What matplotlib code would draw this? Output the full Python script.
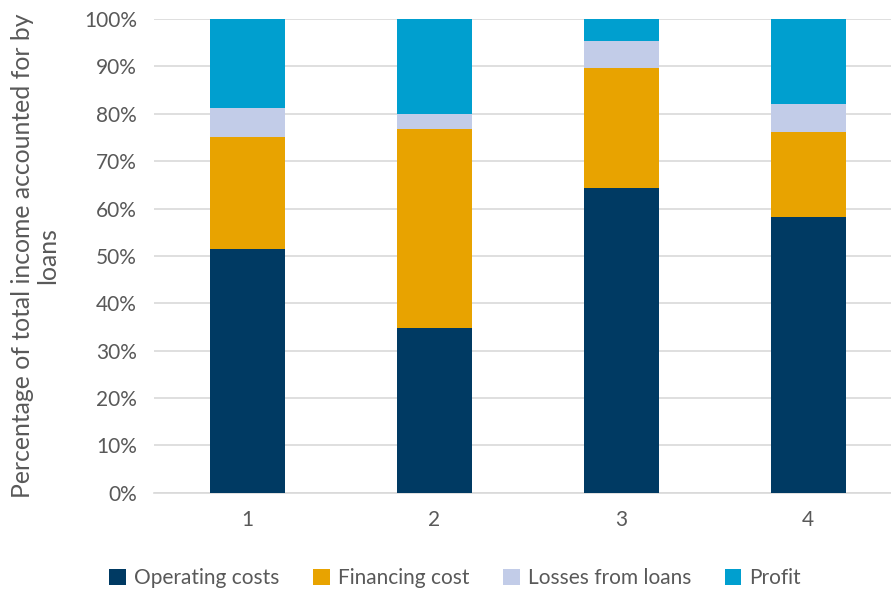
import numpy as np
import matplotlib
matplotlib.use("Agg")
import matplotlib.pyplot as plt

plt.rcParams['font.family'] = ['Lato', 'DejaVu Sans']

categories = ['1', '2', '3', '4']
operating = [51.5, 34.8, 64.3, 58.2]
financing = [23.6, 42.0, 25.4, 18.0]
losses = [6.1, 3.2, 5.7, 5.9]
profit = [100 - a - b - c for a, b, c in zip(operating, financing, losses)]

series = [("Operating costs", operating, "#003A63"),
          ("Financing cost", financing, "#E8A300"),
          ("Losses from loans", losses, "#C2CCE8"),
          ("Profit", profit, "#009FCF")]

fig = plt.figure(figsize=(8.91, 5.91), dpi=100)
ax = fig.add_axes([0.1725, 0.166, 0.8395, 0.802])

x = np.arange(len(categories))
bottom = np.zeros(len(categories))
for name, vals, col in series:
    ax.bar(x, vals, 0.4, bottom=bottom, color=col, label=name, zorder=3)
    bottom += np.array(vals)

ax.set_xlim(-0.5, 3.5)
ax.set_ylim(0, 100)
ax.set_yticks(np.arange(0, 101, 10))
ax.set_yticklabels([f"{v}%" for v in range(0, 101, 10)])
ax.set_xticks(x)
ax.set_xticklabels(categories)
ax.grid(axis='y', color='#D9D9D9', linewidth=1.2, zorder=0)
for s in ['top', 'right', 'left']:
    ax.spines[s].set_visible(False)
ax.spines['bottom'].set_color('#D9D9D9')
ax.spines['bottom'].set_linewidth(1.2)
ax.tick_params(length=0, labelsize=15, colors='#595959', pad=12)
ax.set_ylabel("Percentage of total income accounted for by\nloans", fontsize=17.8,
              color='#595959', labelpad=18, linespacing=1.1)

ax.legend(loc='center', bbox_to_anchor=(0.511, 0.022), bbox_transform=fig.transFigure,
          ncol=4, frameon=False,
          fontsize=15, labelcolor='#595959', handlelength=0.8, handleheight=0.8,
          columnspacing=1.6, handletextpad=0.4)

fig.savefig("out.png", dpi=100)
